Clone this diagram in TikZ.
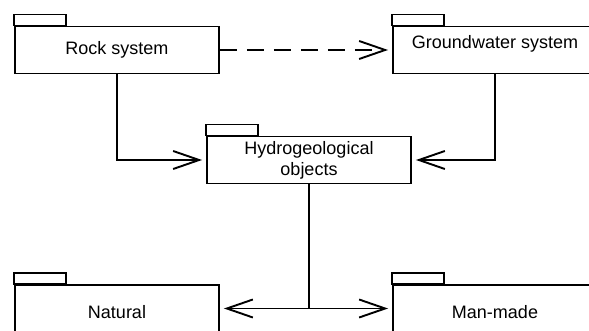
\documentclass[tikz,border=0pt]{standalone}
\usepackage{fontspec}
\setmainfont{Liberation Sans}
\usepackage{tikz}
\usetikzlibrary{arrows.meta, positioning, calc}

\tikzset{
    pkg/.style={draw, line width=1.9pt, rectangle, minimum width=204pt, minimum height=47pt,
        inner sep=0pt, align=center, font=\fontsize{18}{21}\selectfont},
    link/.style={line width=1.9pt, -{Straight Barb[length=26pt, width=18pt, line width=1.9pt]}, shorten >=4pt}
}

\begin{document}
\begin{tikzpicture}[x=1pt, y=-1pt]
\useasboundingbox (0,0) rectangle (589,331);
\clip (0,0) rectangle (589,331);

% Packages
\node[pkg] (rock) at (117,50) {Rock system};
\node[pkg, text depth=16pt] (gw) at (495,50) {Groundwater system};
\node[pkg] (hydro) at (309,160) {Hydrogeological\\objects};
\node[pkg, text height=20pt] (natural) at (117,308.5) {Natural};
\node[pkg, text height=20pt] (manmade) at (495,308.5) {Man-made};

% Tabs
\foreach \n in {rock, gw, hydro, natural, manmade} {
    \draw[line width=1.9pt] (\n.north west) rectangle ++(52,-11);
}

% Dependencies
\draw[link, dash pattern=on 17pt off 10pt] (rock) -- (gw);
\draw[link] (rock.south) |- (hydro.west);
\draw[link] (gw.south) |- (hydro.east);

% Split to the two kinds
\coordinate (split) at (hydro.south |- natural.east);
\draw[line width=1.9pt] (hydro.south) -- (split);
\draw[link] (split) -- (natural.east);
\draw[link] (split) -- (manmade.west);
\end{tikzpicture}
\end{document}
